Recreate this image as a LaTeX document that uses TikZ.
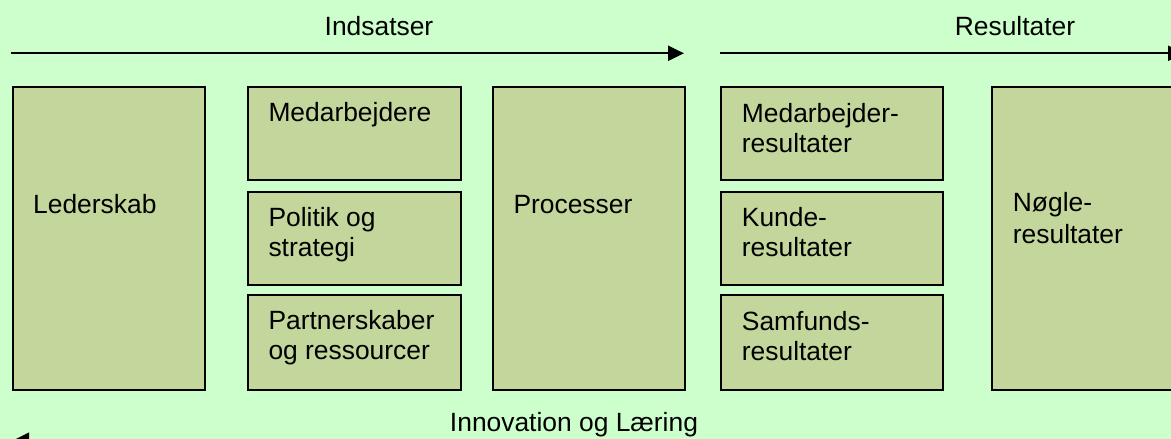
\documentclass[tikz,border=0pt]{standalone}
\usepackage{fontspec}
\setmainfont{Liberation Sans}
\usetikzlibrary{arrows.meta}
\definecolor{bg}{HTML}{CCFFCC}
\definecolor{boxfill}{HTML}{C3D69B}
\begin{document}
\begin{tikzpicture}[x=1pt,y=-1pt,
  panel/.style={draw=black, line width=1.6pt, fill=boxfill, anchor=north west, inner sep=0pt},
  lbl/.style={anchor=base west, align=left, inner sep=0pt, font=\fontsize{26.4}{29.6}\selectfont},
  head/.style={anchor=base, inner sep=0pt, font=\fontsize{26.4}{29.6}\selectfont},
  flow/.style={line width=2.2pt, -{Triangle[length=16pt,width=15pt]}}]
\useasboundingbox (0,0) rectangle (1171,439);
\clip (0,0) rectangle (1171,439);
\fill[bg] (0,0) rectangle (1171,439);

% headings
\node[head] (h-ind) at (379,35) {Indsatser};
\node[head] (h-res) at (1015,35) {Resultater};
\node[head] (h-inn) at (574,431) {Innovation og Læring};

% flow arrows
\coordinate (ind-s) at (11,53.3);
\coordinate (ind-e) at (684,53.3);
\coordinate (res-s) at (720,53.3);
\coordinate (res-e) at (1184,53.3);
\coordinate (inn-s) at (1190,440.3);
\coordinate (inn-e) at (13,440.3);
\draw[flow] (ind-s) -- (ind-e);
\draw[flow] (res-s) -- (res-e);
\draw[flow] (inn-s) -- (inn-e);

% enablers
\node[panel, minimum width=192, minimum height=303] (leder) at (12,86) {};
\node[panel, minimum width=213, minimum height=93] (medarb) at (247,86) {};
\node[panel, minimum width=213, minimum height=93] (politik) at (247,191) {};
\node[panel, minimum width=213, minimum height=95] (partner) at (247,294) {};
\node[panel, minimum width=192, minimum height=303] (proc) at (492,86) {};

% results
\node[panel, minimum width=222, minimum height=93] (medres) at (720,86) {};
\node[panel, minimum width=222, minimum height=93] (kunde) at (720,191) {};
\node[panel, minimum width=222, minimum height=95] (samf) at (720,294) {};
\node[panel, minimum width=200, minimum height=303] (noegle) at (991,86) {};

% labels (base anchor sits on the last line of each label)
\node[lbl] (t-leder) at (33,213.3) {Lederskab};
\node[lbl] (t-medarb) at (268.3,121.7) {Medarbejdere};
\node[lbl] (t-politik) at (268.3,256) {Politik og\\strategi};
\node[lbl] (t-partner) at (268.3,359.5) {Partnerskaber\\og ressourcer};
\node[lbl] (t-proc) at (513.3,213.3) {Processer};
\node[lbl] (t-medres) at (741.7,152.3) {Medarbejder-\\resultater};
\node[lbl] (t-kunde) at (741.7,256.5) {Kunde-\\resultater};
\node[lbl] (t-samf) at (741.7,360) {Samfunds-\\resultater};
\node[lbl, font=\fontsize{26.4}{31.4}\selectfont] (t-noegle) at (1012.7,243.3) {Nøgle-\\resultater};
\end{tikzpicture}
\end{document}
